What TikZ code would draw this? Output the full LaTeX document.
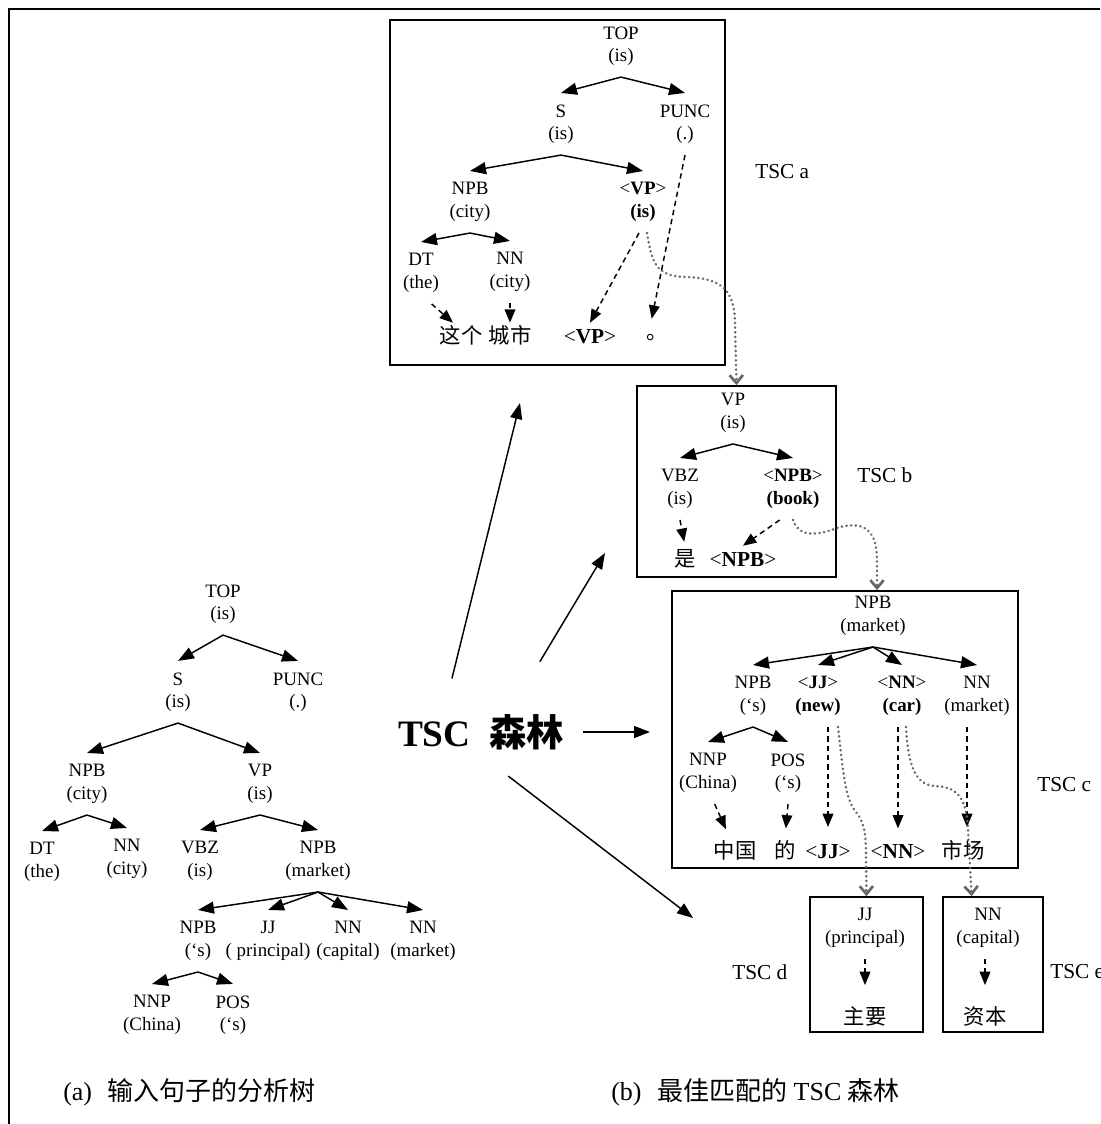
\documentclass[tikz,border=0pt]{standalone}
\usepackage{fontspec}
\setmainfont{Liberation Serif}
\newfontfamily\cjk{Noto Sans CJK SC}
\usetikzlibrary{arrows.meta}

\newcommand\treefont{\fontsize{14.2}{16.8}\selectfont}
\newcommand\wordfont{\fontsize{16}{19}\selectfont}

\begin{document}
\begin{tikzpicture}[
    x=0.75pt, y=-0.75pt,
    tn/.style={align=center, inner xsep=1pt, inner ysep=8.5pt, font=\treefont},
    word/.style={font=\wordfont, text height=12pt, text depth=3pt, inner ysep=3pt, inner xsep=1pt},
    tscbox/.style={draw, line width=1.2pt, inner sep=0pt},
    tsclabel/.style={anchor=west, inner sep=0pt, font=\fontsize{16}{19}\selectfont},
    caption/.style={anchor=west, inner sep=0pt, font=\fontsize{19.5}{22}\selectfont},
    tarrow/.style={-{Triangle[length=12pt,width=9pt]}, line width=1.1pt},
    darrow/.style={-{Triangle[length=10pt,width=8pt]}, line width=1.1pt, dash pattern=on 4pt off 3pt},
    link/.style={-{Straight Barb[length=6pt,width=10pt]}, line width=2pt, black!60, line cap=round, dash pattern=on 0.1pt off 3.4pt},
    farrow/.style={-{Triangle[length=12pt,width=9pt]}, line width=1.1pt}
]
\useasboundingbox (0,0) rectangle (1100,1124);
\draw[line width=1.5pt] (9,1124) -- (9,9) -- (1100,9);

\node[tscbox, minimum width=251.25pt, minimum height=258.75pt] (boxa) at (557.5,192.5) {};
\node[tscbox, minimum width=149.25pt, minimum height=143.25pt] (boxb) at (736.5,481.5) {};
\node[tscbox, minimum width=259.5pt, minimum height=207.75pt] (boxc) at (845,729.5) {};
\node[tscbox, minimum width=84.75pt, minimum height=101.25pt] (boxd) at (866.5,964.5) {};
\node[tscbox, minimum width=75pt, minimum height=101.25pt] (boxe) at (993,964.5) {};

% input parse tree
\node[tn] (topl) at (223,604) {TOP\\(is)};
\node[tn] (sl) at (178,692) {S\\(is)};
\node[tn] (puncl) at (298,692) {PUNC\\(.)};
\node[tn] (npbl) at (87,784) {NPB\\(city)};
\node[tn] (vpl) at (260,784) {VP\\(is)};
\node[tn] (dtl) at (42,862) {DT\\(the)};
\node[tn] (nnl) at (127,859) {NN\\(city)};
\node[tn] (vbzl) at (200,861) {VBZ\\(is)};
\node[tn] (npbml) at (318,861) {NPB\\(market)};
\node[tn] (npbsl) at (198,941) {NPB\\(‘s)};
\node[tn] (jjl) at (268,941) {JJ\\( principal)};
\node[tn] (nncl) at (348,941) {NN\\(capital)};
\node[tn] (nnml) at (423,941) {NN\\(market)};
\node[tn] (nnpl) at (152,1015) {NNP\\(China)};
\node[tn] (posl) at (233,1015) {POS\\(‘s)};
\draw[tarrow] (topl.south) -- (sl.north);
\draw[tarrow] (topl.south) -- (puncl.north);
\draw[tarrow] (sl.south) -- (npbl.north);
\draw[tarrow] (sl.south) -- (vpl.north);
\draw[tarrow] (npbl.south) -- (dtl.north);
\draw[tarrow] (npbl.south) -- (nnl.north);
\draw[tarrow] (vpl.south) -- (vbzl.north);
\draw[tarrow] (vpl.south) -- (npbml.north);
\draw[tarrow] (npbml.south) -- (npbsl.north);
\draw[tarrow] (npbml.south) -- (jjl.north);
\draw[tarrow] (npbml.south) -- (nncl.north);
\draw[tarrow] (npbml.south) -- (nnml.north);
\draw[tarrow] (npbsl.south) -- (nnpl.north);
\draw[tarrow] (npbsl.south) -- (posl.north);

% TSC a
\node[tn] (topa) at (621,46) {TOP\\(is)};
\node[tn] (sa) at (561,124) {S\\(is)};
\node[tn] (punca) at (685,124) {PUNC\\(.)};
\node[tn] (npba) at (470,202) {NPB\\(city)};
\node[tn] (vpa) at (643,202) {<\textbf{VP}>\\\textbf{(is)}};
\node[tn] (dta) at (421,273) {DT\\(the)};
\node[tn] (nna) at (510,272) {NN\\(city)};
\node[word] (zhege) at (461,337) {\cjk 这个};
\node[word] (chengshi) at (510,337) {\cjk 城市};
\node[word] (vpword) at (590,337) {<\textbf{VP}>};
\node[word] (perioda) at (657,333) {\cjk 。};
\draw[tarrow] (topa.south) -- (sa.north);
\draw[tarrow] (topa.south) -- (punca.north);
\draw[tarrow] (sa.south) -- (npba.north);
\draw[tarrow] (sa.south) -- (vpa.north);
\draw[tarrow] (npba.south) -- (dta.north);
\draw[tarrow] (npba.south) -- (nna.north);
\draw[darrow] ([xshift=8pt]dta.south) -- ([xshift=-6pt]zhege.north);
\draw[darrow] (nna.south) -- (chengshi.north);
\draw[darrow] ([xshift=-3pt]vpa.south) -- (vpword.north);
\draw[darrow] (punca.south) -- ([xshift=-4pt]perioda.north);
\node[tsclabel] (laba) at (755,172) {TSC a};

% TSC b
\node[tn] (vpb) at (733,413) {VP\\(is)};
\node[tn] (vbzb) at (680,489) {VBZ\\(is)};
\node[tn] (npbb) at (793,489) {<\textbf{NPB}>\\\textbf{(book)}};
\node[word] (shi) at (685,560) {\cjk 是};
\node[word] (npbword) at (743,560) {<\textbf{NPB}>};
\draw[tarrow] (vpb.south) -- (vbzb.north);
\draw[tarrow] (vpb.south) -- (npbb.north);
\draw[darrow, shorten >=3pt] (vbzb.south) -- (shi.north);
\draw[darrow] ([xshift=-10pt]npbb.south) -- (npbword.north);
\node[tsclabel] (labb) at (857,475) {TSC b};

% TSC c
\node[tn] (npbc) at (873,616) {NPB\\(market)};
\node[tn] (npbsc) at (753,696) {NPB\\(‘s)};
\node[tn] (jjc) at (818,696) {<\textbf{JJ}>\\\textbf{(new)}};
\node[tn] (nnc) at (902,696) {<\textbf{NN}>\\\textbf{(car)}};
\node[tn] (nnmc) at (977,696) {NN\\(market)};
\node[tn] (nnpc) at (708,773) {NNP\\(China)};
\node[tn] (posc) at (788,773) {POS\\(‘s)};
\node[word] (zhongguo) at (735,852) {\cjk 中国};
\node[word] (de) at (785,852) {\cjk 的};
\node[word] (jjword) at (828,852) {<\textbf{JJ}>};
\node[word] (nnword) at (898,852) {<\textbf{NN}>};
\node[word] (shichang) at (963,852) {\cjk 市场};
\draw[tarrow] (npbc.south) -- (npbsc.north);
\draw[tarrow] (npbc.south) -- (jjc.north);
\draw[tarrow] (npbc.south) -- (nnc.north);
\draw[tarrow] (npbc.south) -- (nnmc.north);
\draw[tarrow] (npbsc.south) -- (nnpc.north);
\draw[tarrow] (npbsc.south) -- (posc.north);
\draw[darrow, shorten >=7pt] ([xshift=5pt]nnpc.south) -- ([xshift=-4pt]zhongguo.north);
\draw[darrow, shorten >=7pt] (posc.south) -- (de.north);
\draw[darrow, shorten >=8pt] (jjword.north |- jjc.south) -- (jjword.north);
\draw[darrow, shorten >=7pt] (nnword.north |- nnc.south) -- (nnword.north);
\draw[darrow, shorten >=8pt] ([xshift=3pt]shichang.north |- nnmc.south) -- ([xshift=3pt]shichang.north);
\node[tsclabel] (labc) at (1037,785) {TSC c};

% TSC d and e
\node[tn] (jjd) at (865,928) {JJ\\(principal)};
\node[word] (zhuyao) at (865,1018) {\cjk 主要};
\node[tn] (nne) at (988,928) {NN\\(capital)};
\node[word] (ziben) at (985,1018) {\cjk 资本};
\draw[darrow, shorten >=14pt] (jjd.south) -- (zhuyao.north);
\draw[darrow, shorten >=14pt] (ziben.north |- nne.south) -- (ziben.north);
\node[tsclabel] (labd) at (732,972) {TSC d};
\node[tsclabel] (labe) at (1050,972) {TSC e};

% substitution links
\draw[link] ([xshift=3pt]vpa.south) .. controls (652,262) and (655,276) .. (685,277) .. controls (722,278) and (735,290) .. (735,325) -- (boxb.north);
\draw[link] (npbb.south) .. controls (798,535) and (812,538) .. (840,527) .. controls (868,520) and (877,535) .. (877,560) -- ([xshift=24pt]boxc.north);
\draw[link] ([xshift=15pt]jjc.south) .. controls (843,770) and (845,800) .. (856,812) .. controls (866,824) and (866,840) .. (866,860) -- (boxd.north);
\draw[link] ([xshift=3pt]nnc.south) .. controls (908,765) and (915,785) .. (935,786) .. controls (955,787) and (967,795) .. (968,830) -- ([xshift=-16pt]boxe.north);

% forest
\node[minimum width=132pt, minimum height=45pt, inner sep=0pt, font=\fontsize{28}{32}\selectfont\bfseries] (forest) at (481,732) {TSC\hspace{0.5em}{\cjk 森林}};
\coordinate (toa) at (520,403);
\coordinate (tob) at (605,553);
\coordinate (toc) at (650,732);
\coordinate (tod) at (693,918);
\draw[farrow, shorten <=18pt] (forest.139) -- (toa);
\draw[farrow, shorten <=35pt] (forest.41) -- (tob);
\draw[farrow, shorten <=10pt] (forest.east) -- (toc);
\draw[farrow, shorten <=17pt] (forest.287) -- (tod);

\node[caption] (capa) at (63,1092) {(a)\hspace{0.6em}{\cjk 输入句子的分析树}};
\node[caption] (capb) at (611,1092) {(b)\hspace{0.6em}{\cjk 最佳匹配的} TSC {\cjk 森林}};
\end{tikzpicture}
\end{document}
